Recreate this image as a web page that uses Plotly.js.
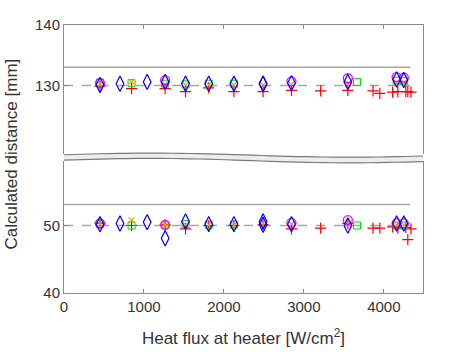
<!DOCTYPE html>
<html>
<head>
<meta charset="utf-8">
<script src="https://cdn.plot.ly/plotly-3.0.1.min.js"></script>
<style>
  html, body { margin: 0; padding: 0; background: #ffffff; }
  #plot { width: 469px; height: 352px; }
</style>
</head>
<body>
<div id="plot"></div>
<script>
// heat flux positions [W/cm^2] and calculated distances [mm], top (~130) and bottom (~50) groups
const diamondX = [450, 700, 1040, 1265, 1520, 1810, 2125, 2490, 2490, 2845, 3550, 4160, 4250];
const diamondTop = [130.1, 130.3, 130.6, 130.6, 130.3, 130.3, 130.3, 130.3, 130.3, 130.4, 130.6, 131.0, 130.9];
const diamondBot = [50.2, 50.3, 50.5, 48.1, 50.6, 50.2, 50.2, 50.6, 50.1, 50.2, 50.0, 50.3, 50.3];

const circleX = [450, 1265, 2845, 3550, 4160, 4250];
const circleTop = [130.4, 130.9, 130.7, 131.2, 131.4, 131.3];
const circleBot = [50.3, 50.1, 50.4, 50.8, 50.3, 50.3];

const squareX = [450, 845, 1265, 1520, 1810, 2125, 3665, 4160, 4250];
const squareTop = [130.5, 130.4, 130.3, 130.2, 130.3, 130.3, 130.6, 130.8, 130.7];
const squareBot = [50.2, 50.0, 50.1, 50.2, 50.1, 50.1, 50.0, 50.0, 50.0];

const xmarkX = [450, 845, 1265, 1520, 1810, 2125, 2490, 2845, 3550, 4160, 4250];
const xmarkTop = [130.2, 130.6, 130.2, 130.1, 130.1, 130.1, 130.1, 130.2, 130.3, 130.5, 130.5];
const xmarkBot = [50.2, 50.8, 50.1, 50.1, 50.1, 50.0, 50.2, 50.2, 50.3, 50.1, 50.1];

const plusX = [450, 845, 1265, 1520, 1810, 2125, 2490, 2845, 3210, 3550, 3865, 3950, 4110, 4175, 4275, 4300, 4340];
const plusTop = [129.9, 129.5, 129.5, 129.0, 129.6, 129.0, 129.0, 129.2, 129.1, 129.2, 129.1, 128.7, 128.9, 129.0, 129.0, 129.0, 128.9];
const plusBot = [50.3, 50.0, 50.1, 49.5, 50.0, 50.0, 50.1, 49.5, 49.6, 50.3, 49.6, 49.6, 49.8, 49.6, 49.7, 47.9, 49.5];

// reference lines
const refX = [0, 4330];
const dashedTop = [130, 130];
const dashedBot = [50, 50];
const solidTop = [133, 133];
const solidBot = [53.1, 53.1];

const xTicks = [0, 1000, 2000, 3000, 4000];

const AXIS_GRAY = '#8a8a8a';
const TEXT_GRAY = '#333333';

function pair(x, yTop, yBot, marker) {
  const base = { type: 'scatter', mode: 'markers', marker, hoverinfo: 'skip', showlegend: false };
  return [
    Object.assign({}, base, { x, y: yTop, xaxis: 'x2', yaxis: 'y2' }),
    Object.assign({}, base, { x, y: yBot, xaxis: 'x', yaxis: 'y' })
  ];
}

function lineTrace(y, axes, dash) {
  return {
    x: refX, y, type: 'scatter', mode: 'lines', xaxis: axes[0], yaxis: axes[1],
    line: { color: '#a6a6a6', width: 1.5, dash: dash ? 'dash' : 'solid' },
    hoverinfo: 'skip', showlegend: false
  };
}

const traces = [
  lineTrace(solidTop, ['x2', 'y2'], false),
  lineTrace(dashedTop, ['x2', 'y2'], true),
  lineTrace(solidBot, ['x', 'y'], false),
  lineTrace(dashedBot, ['x', 'y'], true),
  ...pair(plusX, plusTop, plusBot, { symbol: 'cross-thin-open', size: 8, color: '#ff0000', line: { width: 1.2 } }),
  ...pair(squareX, squareTop, squareBot, { symbol: 'square-open', size: 7, color: '#00dd00', line: { width: 1 } }),
  ...pair(xmarkX, xmarkTop, xmarkBot, { symbol: 'x-thin-open', size: 6, color: '#f0a000', line: { width: 1.2 } }),
  ...pair(circleX, circleTop, circleBot, { symbol: 'circle-open', size: 9, color: '#ff00ff', line: { width: 1.3 } }),
  ...pair(diamondX, diamondTop, diamondBot, { symbol: 'diamond-tall-open', size: 11, color: '#0000ff', line: { width: 1.2 } })
];

// wavy axis break between the two panels (pixel -> paper conversion)
const PLOT_L = 64, PLOT_W = 359, PLOT_B = 293, PLOT_H = 266;
function px(x) { return (x - PLOT_L) / PLOT_W; }
function py(y) { return (PLOT_B - y) / PLOT_H; }
function wave(offset, amp) {
  const pts = [];
  for (let i = 0; i <= 40; i++) {
    const t = i / 40;
    pts.push([px(PLOT_L + t * PLOT_W), py(offset - amp * Math.sin(2 * Math.PI * t * 0.9 + 0.2))]);
  }
  return pts;
}
const upper = wave(156.2, 2.0);
const lower = wave(161.6, 2.2);
const toPath = pts => pts.map((p, i) => (i ? 'L' : 'M') + p[0].toFixed(4) + ',' + p[1].toFixed(4)).join(' ');
const fillPath = toPath(upper) + ' ' + lower.slice().reverse().map(p => 'L' + p[0].toFixed(4) + ',' + p[1].toFixed(4)).join(' ') + ' Z';

const shapes = [
  { type: 'path', xref: 'paper', yref: 'paper', path: fillPath, fillcolor: '#ededed', line: { width: 0 }, layer: 'above' },
  { type: 'path', xref: 'paper', yref: 'paper', path: toPath(upper), line: { color: '#7a7a7a', width: 1.2 }, layer: 'above' },
  { type: 'path', xref: 'paper', yref: 'paper', path: toPath(lower), line: { color: '#7a7a7a', width: 1.2 }, layer: 'above' }
];

const commonAxis = {
  showline: true, linecolor: AXIS_GRAY, linewidth: 1,
  ticks: 'inside', ticklen: 4, tickcolor: AXIS_GRAY,
  showgrid: false, zeroline: false,
  tickfont: { family: 'Liberation Sans, Arial, sans-serif', size: 15, color: TEXT_GRAY }
};

const layout = {
  width: 469, height: 352,
  margin: { l: 64, r: 46, t: 25, b: 59 },
  paper_bgcolor: '#ffffff', plot_bgcolor: '#ffffff',
  font: { family: 'Liberation Sans, Arial, sans-serif', color: TEXT_GRAY },
  xaxis: Object.assign({}, commonAxis, {
    domain: [0, 1], anchor: 'y', range: [0, 4490], tickvals: xTicks,
    title: { text: 'Heat flux at heater [W/cm<sup>2</sup>]', font: { size: 17, color: TEXT_GRAY }, standoff: 18 }
  }),
  yaxis: Object.assign({}, commonAxis, {
    domain: [0, 0.4925], anchor: 'x', range: [40, 59.55], tickvals: [40, 50], mirror: true
  }),
  xaxis2: Object.assign({}, commonAxis, {
    domain: [0, 1], anchor: 'y2', matches: 'x', side: 'top', showticklabels: false, tickvals: xTicks
  }),
  yaxis2: Object.assign({}, commonAxis, {
    domain: [0.519, 1], anchor: 'x2', range: [118.7, 140], tickvals: [130, 140], mirror: true
  }),
  shapes,
  annotations: [{
    text: 'Calculated distance [mm]', textangle: -90, showarrow: false,
    xref: 'paper', yref: 'paper', x: -0.145, y: 0.52, xanchor: 'center', yanchor: 'middle',
    font: { size: 17, color: TEXT_GRAY }
  }]
};

Plotly.newPlot('plot', traces, layout, { displayModeBar: false, staticPlot: true });
</script>
</body>
</html>
